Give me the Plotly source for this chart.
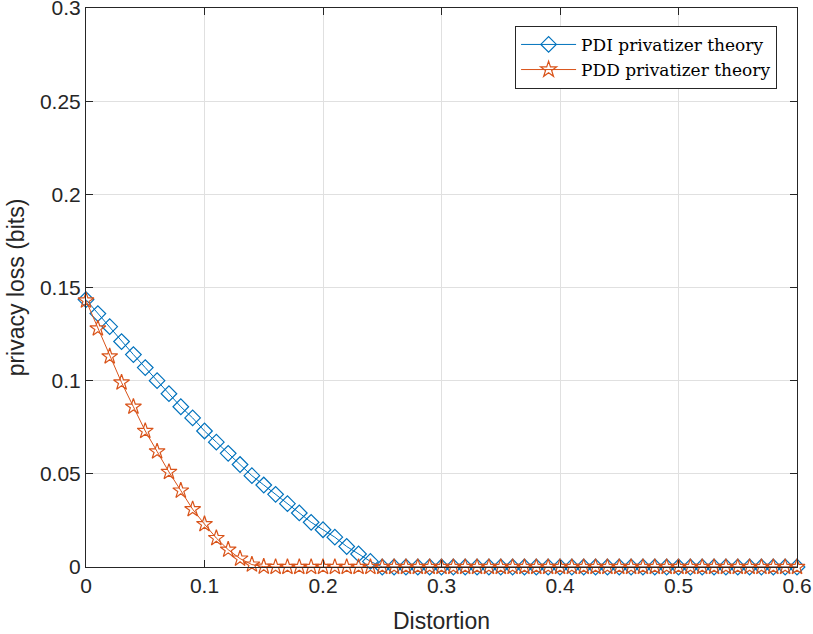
import plotly.graph_objects as go

# distortion grid, 0 to 0.6 in steps of 0.01
distortion = [round(i * 0.01, 2) for i in range(61)]

# values
pdi_theory = [0.1435, 0.136, 0.129, 0.121, 0.114, 0.107, 0.100, 0.093, 0.086, 0.080,
              0.073, 0.067, 0.061, 0.055, 0.049, 0.044, 0.039, 0.034, 0.029, 0.024,
              0.020, 0.016, 0.011, 0.007, 0.003] + [0.0] * 36
pdd_theory = [0.143, 0.128, 0.113, 0.099, 0.086, 0.073, 0.062, 0.051, 0.041, 0.031,
              0.023, 0.0155, 0.0093, 0.0045, 0.0013, 0.0002] + [0.0] * 45

x_ticks = [0, 0.1, 0.2, 0.3, 0.4, 0.5, 0.6]
x_tick_labels = ["0", "0.1", "0.2", "0.3", "0.4", "0.5", "0.6"]
y_ticks = [0, 0.05, 0.1, 0.15, 0.2, 0.25, 0.3]
y_tick_labels = ["0", "0.05", "0.1", "0.15", "0.2", "0.25", "0.3"]

blue = "#0072BD"
orange = "#D95319"

fig = go.Figure()
fig.add_trace(go.Scatter(
    x=distortion, y=pdi_theory, mode="lines+markers",
    name="PDI privatizer theory",
    line=dict(color=blue, width=1),
    marker=dict(symbol="diamond-open", size=12, color=blue, line=dict(width=1.2)),
    cliponaxis=False,
))
fig.add_trace(go.Scatter(
    x=distortion, y=pdd_theory, mode="lines+markers",
    name="PDD privatizer theory",
    line=dict(color=orange, width=1),
    marker=dict(symbol="star-open", size=12, color=orange, line=dict(width=1.2)),
    cliponaxis=False,
))

tick_font = dict(family="Liberation Sans, Arial, sans-serif", size=21, color="#262626")
title_font = dict(family="Liberation Sans, Arial, sans-serif", size=23, color="#262626")

fig.update_layout(
    width=813, height=634,
    margin=dict(l=86, r=16, t=8, b=67, autoexpand=False),
    paper_bgcolor="white", plot_bgcolor="white",
    showlegend=True,
    legend=dict(
        x=0.972, y=0.968, xanchor="right", yanchor="top",
        bgcolor="white", bordercolor="#262626", borderwidth=1,
        font=dict(family="DejaVu Serif, Liberation Serif, serif", size=17, color="#000000"),
        tracegroupgap=0, itemwidth=55,
    ),
)
fig.update_xaxes(
    range=[0, 0.6], tickvals=x_ticks, ticktext=x_tick_labels,
    showgrid=True, gridcolor="#e0e0e0", gridwidth=1,
    showline=True, linecolor="#262626", linewidth=1, mirror="ticks",
    ticks="inside", ticklen=7, tickcolor="#262626",
    zeroline=False, tickfont=tick_font, automargin=False,
    ticklabeloverflow="allow",
    title=dict(text="Distortion", font=title_font, standoff=20),
)
fig.update_yaxes(
    range=[0, 0.3], tickvals=y_ticks, ticktext=y_tick_labels,
    showgrid=True, gridcolor="#e0e0e0", gridwidth=1,
    showline=True, linecolor="#262626", linewidth=1, mirror="ticks",
    ticks="inside", ticklen=7, tickcolor="#262626",
    zeroline=False, tickfont=tick_font, automargin=False,
    ticklabeloverflow="allow",
    title=dict(text="privacy loss (bits)", font=title_font, standoff=8),
)

# drop the browser's default page margin so the figure sits at the corner
fig.write_html("out.html", config={"displayModeBar": False},
               post_script="document.body.style.margin='0';")
